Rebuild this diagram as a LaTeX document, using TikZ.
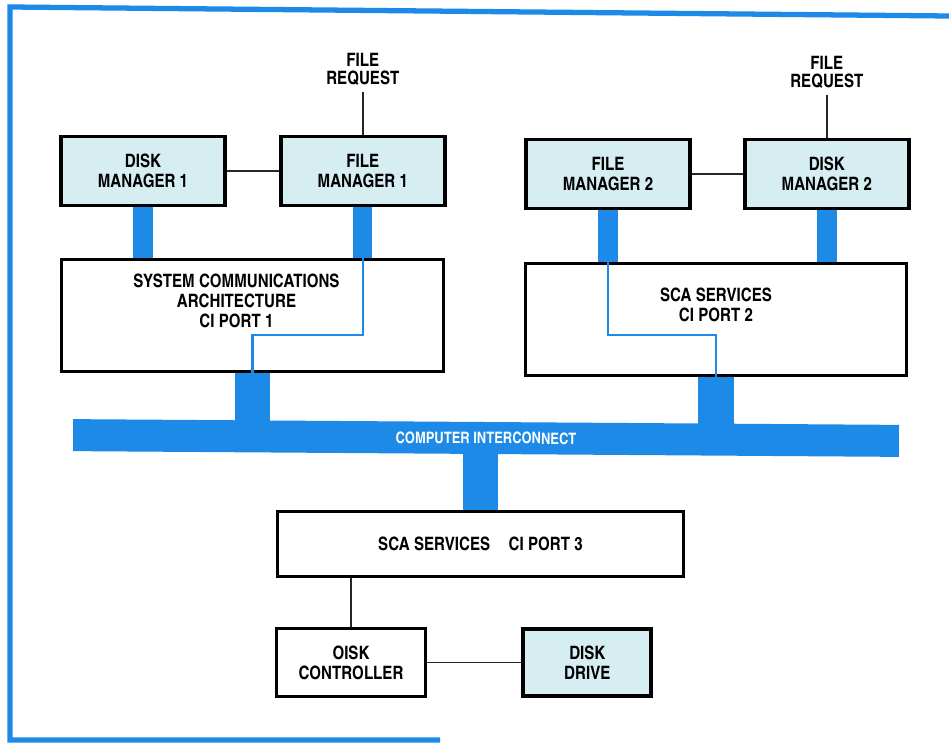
\documentclass[tikz,border=0pt]{standalone}
\usepackage{fontspec}
\setmainfont{TeX Gyre Heros Cn}
\usetikzlibrary{positioning,backgrounds}
\definecolor{ciblue}{RGB}{28,138,230}
\definecolor{paleteal}{RGB}{214,237,242}

\begin{document}
\begin{tikzpicture}[x=0.02cm,y=-0.02cm,
  font=\fontsize{10.5}{11.3}\selectfont\bfseries,
  box/.style={draw,line width=2.2pt,fill=white,align=center,inner sep=2pt},
  mgr/.style={box,fill=paleteal,minimum width=3.28cm,minimum height=1.38cm},
  req/.style={align=center,font=\fontsize{10.5}{10.2}\selectfont\bfseries},
  busbox/.style={fill=ciblue,text=white,minimum width=16.52cm,minimum height=0.64cm,
                 font=\fontsize{9}{10}\selectfont\bfseries},
  link/.style={line width=0.9pt,black!85},
  wire/.style={line width=1.2pt,ciblue},
  bar/.style={line width=11pt,ciblue},
  fatbar/.style={line width=20pt,ciblue}]
  \useasboundingbox (0,0) rectangle (949,743);
  % frame
  \draw[ciblue,line width=3pt] (440,740) -- (10,740) -- (10,7) -- (949,16);

  % managers
  \node[mgr] (dm1) at (143,171) {DISK\\MANAGER 1};
  \node[mgr,right=1.04cm of dm1] (fm1) {FILE\\MANAGER 1};
  \node[mgr] (fm2) at (608,174) {FILE\\MANAGER 2};
  \node[mgr,right=1.02cm of fm2] (dm2) {DISK\\MANAGER 2};
  \node[req,above=0.86cm of fm1.north,anchor=south] (req1) {FILE\\REQUEST};
  \node[req,above=0.86cm of dm2.north,anchor=south] (req2) {FILE\\REQUEST};

  % ports
  \node[box,minimum width=7.64cm,minimum height=2.24cm,
        label={[align=center,anchor=north,xshift=-0.32cm,yshift=-0.2cm]north:{SYSTEM COMMUNICATIONS\\ARCHITECTURE\\CI PORT 1}}]
        (sca1) at (252.5,315.5) {};
  \node[box,minimum width=7.62cm,minimum height=2.24cm,
        label={[align=center,anchor=north,yshift=-0.4cm]north:{SCA SERVICES\\CI PORT 2}}]
        (sca2) at (716,319.5) {};
  \node[busbox,rotate=-0.4] (ci) at (486,438) {COMPUTER INTERCONNECT};
  \node[box,minimum width=8.12cm,minimum height=1.3cm] (sca3) at (480.5,544) {SCA SERVICES\quad CI PORT 3};

  % disk
  \node[box,minimum width=2.98cm,minimum height=1.36cm] (dc) at (351,662.5) {OISK\\CONTROLLER};
  \node[mgr,minimum width=2.56cm,minimum height=1.34cm,right=1.88cm of dc] (dd) {DISK\\DRIVE};

  \begin{scope}[on background layer]
    \draw[bar] (dm1.center) -- (dm1.center |- sca1.center);
    \draw[bar] (fm1.center) -- (fm1.center |- sca1.center);
    \draw[bar] (fm2.center) -- (fm2.center |- sca2.center);
    \draw[bar] (dm2.center) -- (dm2.center |- sca2.center);
    \draw[fatbar] (sca1.center) -- (sca1.center |- ci.center);
    \draw[fatbar] (sca2.center) -- (sca2.center |- ci.center);
    \draw[fatbar] (sca3.center) -- (sca3.center |- ci.center);
  \end{scope}

  \draw[wire] (fm1.south |- sca1.north) -- ++(0,77) -| (sca1.south);
  \draw[wire] (fm2.south |- sca2.north) -- ++(0,73) -| (sca2.south);

  \draw[link] (dm1) -- (fm1);
  \draw[link] (fm2) -- (dm2);
  \draw[link] (req1.south) -- (req1.south |- fm1.north);
  \draw[link] (req2.south) -- (req2.south |- dm2.north);
  \draw[link] (dc.north) -- (dc.north |- sca3.south);
  \draw[link] (dc) -- (dd);
\end{tikzpicture}
\end{document}
